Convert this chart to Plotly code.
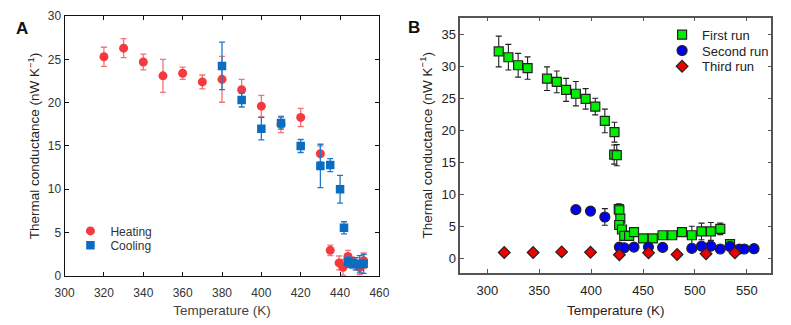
import plotly.graph_objects as go

# ---- Panel A: heating / cooling ----
heat_T = [320, 330, 340, 350, 360, 370, 380, 390, 400, 410, 420, 430, 435, 439.5, 441.5, 444, 446, 448, 450, 452]
heat_G = [25.3, 26.3, 24.7, 23.1, 23.4, 22.4, 22.7, 21.5, 19.6, 17.5, 18.3, 14.1, 2.95, 1.5, 1.0, 2.25, 1.6, 1.4, 0.95, 1.75]
heat_err = [1.1, 1.1, 0.9, 1.9, 0.7, 0.8, 2.65, 1.2, 1.25, 0.95, 1.05, 0.9, 0.6, 0.8, 0.9, 0.7, 0.6, 0.7, 0.8, 0.9]

cool_T = [380, 390, 400, 410, 420, 430, 435, 440, 442, 444, 446, 448, 450, 452]
cool_G = [24.25, 20.3, 17.0, 17.65, 15.0, 12.7, 12.8, 10.0, 5.55, 1.6, 1.5, 1.4, 1.35, 1.4]
cool_err = [2.75, 0.8, 1.3, 0.7, 0.75, 2.5, 0.75, 1.6, 0.7, 0.6, 0.6, 0.7, 1.0, 1.1]

# ---- Panel B: three successive runs ----
first_T = [311, 320.3, 329.7, 338.8, 357.5, 366.9, 375.9, 385.3, 394.7, 404, 413.2, 422.5, 422.2, 424.7,
           426.6, 427.2, 428.1, 427.0, 429.7, 431.9, 436.6, 441.3, 450, 459.4, 468.8, 478.1, 487.5,
           497, 506.3, 515.3, 524.4, 533.8]
first_G = [32.3, 31.4, 30.15, 29.7, 28.05, 27.55, 26.3, 25.7, 24.9, 23.7, 21.45, 19.7, 16.2, 16.1,
           7.7, 7.5, 6.2, 5.2, 4.5, 3.5, 3.5, 4.1, 3.1, 3.1, 3.6, 3.6, 4.1,
           3.6, 4.2, 4.2, 4.6, 2.2]
first_err = [2.4, 2.0, 1.85, 1.75, 1.85, 1.7, 1.8, 1.9, 1.6, 1.3, 1.85, 1.55, 1.5, 1.65,
             0.8, 0.6, 0.5, 0.4, 0.4, 0.4, 0.3, 0.3, 0.3, 0.3, 0.4, 0.4, 0.3,
             1.4, 1.3, 1.4, 0.9, 0.3]

second_T = [385.3, 399.4, 413.2, 427.2, 431.9, 441.3, 455.2, 468.9, 497, 506.3, 515.3, 524.4, 533.8, 542.8, 547.5, 556.9]
second_G = [7.6, 7.37, 6.45, 1.75, 1.65, 1.75, 1.75, 1.7, 1.55, 1.9, 1.9, 1.45, 1.85, 1.45, 1.45, 1.5]
second_err = [0.2, 0.2, 1.3, 0.3, 0.3, 0.3, 0.3, 0.3, 0.3, 0.3, 0.3, 0.2, 0.3, 0.3, 0.3, 0.2]

third_T = [316.3, 344.1, 371.6, 399.4, 427.2, 455.3, 482.8, 510.7, 538.5]
third_G = [0.9, 0.9, 1.0, 0.95, 0.55, 0.85, 0.6, 0.7, 0.85]
third_err = [0.3, 0.3, 0.2, 0.2, 0.3, 0.2, 0.3, 0.3, 0.2]

W, H = 791, 325
FONT = "Liberation Sans, Arial, sans-serif"
YTITLE = "Thermal conductance (nW K<sup>\u22121</sup>)"

fig = go.Figure()

fig.add_trace(go.Scatter(
    x=heat_T, y=heat_G, mode="markers", name="Heating",
    marker=dict(symbol="circle", size=9, color="#f53a3f", line=dict(width=0)),
    error_y=dict(type="data", array=heat_err, color="rgba(240,80,85,0.8)", thickness=1.3, width=3),
    xaxis="x", yaxis="y", legend="legend"))
fig.add_trace(go.Scatter(
    x=cool_T, y=cool_G, mode="markers", name="Cooling",
    marker=dict(symbol="square", size=8.5, color="#0b6dbf", line=dict(width=0)),
    error_y=dict(type="data", array=cool_err, color="#1e78c8", thickness=1.3, width=3),
    xaxis="x", yaxis="y", legend="legend3"))

fig.add_trace(go.Scatter(
    x=first_T, y=first_G, mode="markers", name="First run",
    marker=dict(symbol="square", size=9, color="#00ee00", line=dict(width=1.2, color="#222")),
    error_y=dict(type="data", array=first_err, color="#222", thickness=1.1, width=3),
    xaxis="x2", yaxis="y2", legend="legend2"))
fig.add_trace(go.Scatter(
    x=second_T, y=second_G, mode="markers", name="Second run",
    marker=dict(symbol="circle", size=10, color="#0000f0", line=dict(width=1.2, color="#222")),
    error_y=dict(type="data", array=second_err, color="#222", thickness=1.1, width=3),
    xaxis="x2", yaxis="y2", legend="legend4"))
fig.add_trace(go.Scatter(
    x=third_T, y=third_G, mode="markers", name="Third run",
    marker=dict(symbol="diamond", size=9, color="#f00000", line=dict(width=1.2, color="#222")),
    error_y=dict(type="data", array=third_err, color="#222", thickness=1.1, width=3),
    xaxis="x2", yaxis="y2", legend="legend5"))

axA = dict(showline=True, linecolor="#111", linewidth=1.2, mirror="ticks", ticks="inside",
           ticklen=4, tickcolor="#111", showgrid=False, zeroline=False,
           tickfont=dict(family=FONT, size=12, color="#333"))
axB = dict(showline=True, linecolor="#555", linewidth=1.5, mirror="ticks", ticks="inside",
           ticklen=4, tickcolor="#555", showgrid=False, zeroline=False,
           tickfont=dict(family=FONT, size=13, color="#222"))


def legend_at(x_px, y_px, size, color):
    # one legend box per entry so each row sits exactly where it should
    return dict(x=x_px / W, y=1 - y_px / H, xanchor="left", yanchor="middle",
                bgcolor="rgba(0,0,0,0)", borderwidth=0,
                font=dict(family=FONT, size=size, color=color))


fig.update_layout(
    width=W, height=H, margin=dict(l=0, r=0, t=0, b=0),
    paper_bgcolor="white", plot_bgcolor="white",
    font=dict(family=FONT, color="#333"),
    xaxis=dict(axA, domain=[56 / W, 379 / W], range=[300, 460], dtick=20, ticklabelstandoff=6,
               title=dict(text="Temperature (K)", font=dict(size=13.5, color="#444"), standoff=6)),
    yaxis=dict(axA, domain=[1 - 281 / H, 1 - 9.5 / H], range=[0, 30], dtick=5,
               title=dict(text=YTITLE, font=dict(size=13.5, color="#222"), standoff=4)),
    xaxis2=dict(axB, domain=[462 / W, 781 / W], range=[274, 573.5], dtick=50, anchor="y2",
                ticklabelstandoff=5,
                title=dict(text="Temperature (K)", font=dict(size=13.5, color="#222"), standoff=8)),
    yaxis2=dict(axB, domain=[1 - 278 / H, 1 - 11 / H], range=[-2.3, 37.6], dtick=5, anchor="x2",
                title=dict(text=YTITLE, font=dict(size=13.5, color="#222"), standoff=6)),
    legend=legend_at(62, 234, 12, "#333"),
    legend3=legend_at(62, 249, 12, "#333"),
    legend2=legend_at(669, 29, 13, "#222"),
    legend4=legend_at(669, 45.5, 13, "#222"),
    legend5=legend_at(669, 62, 13, "#222"),
    showlegend=True,
    annotations=[
        dict(text="<b>A</b>", x=4 / W, y=1 - 22 / H, xref="paper", yref="paper",
             xanchor="left", yanchor="middle", showarrow=False,
             font=dict(family=FONT, size=17, color="#111")),
        dict(text="<b>B</b>", x=406 / W, y=1 - 21 / H, xref="paper", yref="paper",
             xanchor="left", yanchor="middle", showarrow=False,
             font=dict(family=FONT, size=17, color="#111")),
    ],
)

fig.write_html("out.html")
